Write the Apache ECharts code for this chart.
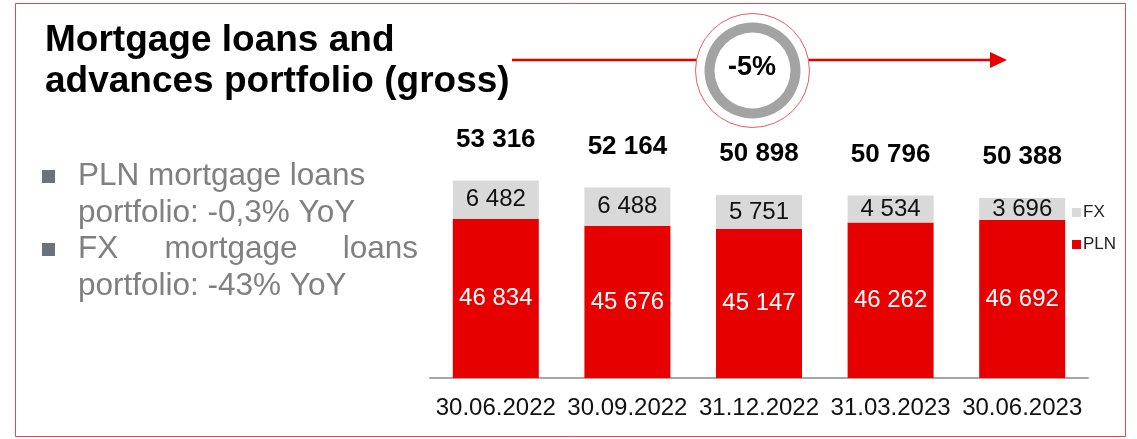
<!DOCTYPE html>
<html>
<head>
<meta charset="utf-8">
<script src="https://cdn.jsdelivr.net/npm/echarts@6/dist/echarts.min.js"></script>
<style>
  html, body { margin: 0; padding: 0; background: #fff; }
  #chart { width: 1137px; height: 439px; }
</style>
</head>
<body>
<div id="chart"></div>
<script>
// Quarter-end dates
const categories = ['30.06.2022', '30.09.2022', '31.12.2022', '31.03.2023', '30.06.2023'];
// PLN mortgage loans (PLN m)
const plnValues = [46834, 45676, 45147, 46262, 46692];
// FX mortgage loans (PLN m)
const fxValues = [6482, 6488, 5751, 4534, 3696];
// Portfolio totals shown above the bars
const totalValues = [53316, 52164, 50898, 50796, 50388];
// Change over the period
const changeLabel = '-5%';

const FONT = "'Liberation Sans', Arial, sans-serif";
const RED = '#e60000';
const GREY = '#d9d9d9';

const fmt = v => String(v).replace(/\B(?=(\d{3})+(?!\d))/g, ' ');

const chart = echarts.init(document.getElementById('chart'), null, { renderer: 'canvas' });

const bulletText = { font: '31.5px ' + FONT, fill: '#808080', verticalAlign: 'middle' };

chart.setOption({
  backgroundColor: '#ffffff',
  animation: false,
  grid: { left: 430, right: 49, top: 141, bottom: 61 },
  xAxis: {
    type: 'category',
    data: categories,
    axisLine: { lineStyle: { color: '#a6a6a6', width: 2 } },
    axisTick: { show: false },
    axisLabel: { interval: 0, color: '#111', fontSize: 24, fontFamily: FONT, margin: 18 }
  },
  yAxis: {
    type: 'value',
    min: 20000,
    max: 60000,
    show: false,
    splitLine: { show: false }
  },
  legend: {
    orient: 'vertical',
    left: 1072,
    top: 204,
    padding: 0,
    itemWidth: 9,
    itemHeight: 9,
    itemGap: 15,
    icon: 'rect',
    data: ['FX', 'PLN'],
    textStyle: { fontSize: 17, fontFamily: FONT, color: '#222', padding: [0, 0, 0, -3] }
  },
  series: [
    {
      name: 'PLN',
      type: 'bar',
      stack: 'portfolio',
      barWidth: 86,
      data: plnValues,
      itemStyle: { color: RED },
      label: {
        show: true,
        position: 'inside',
        color: '#fff',
        fontSize: 24,
        fontFamily: FONT,
        formatter: p => fmt(p.value)
      }
    },
    {
      name: 'FX',
      type: 'bar',
      stack: 'portfolio',
      barWidth: 86,
      data: fxValues,
      itemStyle: { color: GREY },
      label: {
        show: true,
        position: 'inside',
        color: '#111',
        fontSize: 24,
        fontFamily: FONT,
        formatter: p => fmt(p.value)
      }
    },
    {
      name: 'Total',
      type: 'bar',
      barWidth: 86,
      barGap: '-100%',
      data: totalValues,
      z: 0,
      silent: true,
      itemStyle: { color: 'rgba(0,0,0,0)' },
      label: {
        show: true,
        position: 'top',
        distance: 28,
        color: '#000',
        fontSize: 26,
        fontWeight: 'bold',
        fontFamily: FONT,
        formatter: p => fmt(p.value)
      }
    }
  ],
  graphic: [
    // frame
    {
      type: 'rect',
      shape: { x: 15.5, y: 3.5, width: 1110, height: 433 },
      style: { fill: 'none', stroke: '#e8474b', lineWidth: 1 },
      silent: true
    },
    // title
    {
      type: 'text',
      style: { text: 'Mortgage loans and', x: 45, y: 41, font: 'bold 37px ' + FONT, fill: '#000', verticalAlign: 'middle' }
    },
    {
      type: 'text',
      style: { text: 'advances portfolio (gross)', x: 45, y: 82, font: 'bold 37px ' + FONT, fill: '#000', verticalAlign: 'middle' }
    },
    // trend arrow
    {
      type: 'line',
      shape: { x1: 512, y1: 60, x2: 993, y2: 60 },
      style: { stroke: RED, lineWidth: 2.5 }
    },
    {
      type: 'polygon',
      shape: { points: [[990, 52], [1007, 60], [990, 68]] },
      style: { fill: RED }
    },
    // change badge
    {
      type: 'circle',
      shape: { cx: 752.5, cy: 70.5, r: 57 },
      style: { fill: '#fff', stroke: '#ec5a5a', lineWidth: 1 }
    },
    {
      type: 'ring',
      shape: { cx: 752.5, cy: 70.5, r: 48, r0: 38 },
      style: { fill: '#a3a3a3' }
    },
    {
      type: 'text',
      style: { text: changeLabel, x: 752, y: 68, font: 'bold 27px ' + FONT, fill: '#000', align: 'center', verticalAlign: 'middle' }
    },
    // bullet points
    {
      type: 'rect',
      shape: { x: 42, y: 170, width: 13, height: 13 },
      style: { fill: '#6b7279' }
    },
    { type: 'text', style: Object.assign({ text: 'PLN mortgage loans', x: 78, y: 176 }, bulletText) },
    { type: 'text', style: Object.assign({ text: 'portfolio: -0,3% YoY', x: 78, y: 213 }, bulletText) },
    {
      type: 'rect',
      shape: { x: 42, y: 243, width: 13, height: 13 },
      style: { fill: '#6b7279' }
    },
    { type: 'text', style: Object.assign({ text: 'FX', x: 78, y: 249 }, bulletText) },
    { type: 'text', style: Object.assign({ text: 'mortgage', x: 231, y: 249, align: 'center' }, bulletText) },
    { type: 'text', style: Object.assign({ text: 'loans', x: 418, y: 249, align: 'right' }, bulletText) },
    { type: 'text', style: Object.assign({ text: 'portfolio: -43% YoY', x: 78, y: 286 }, bulletText) }
  ]
});
</script>
</body>
</html>
